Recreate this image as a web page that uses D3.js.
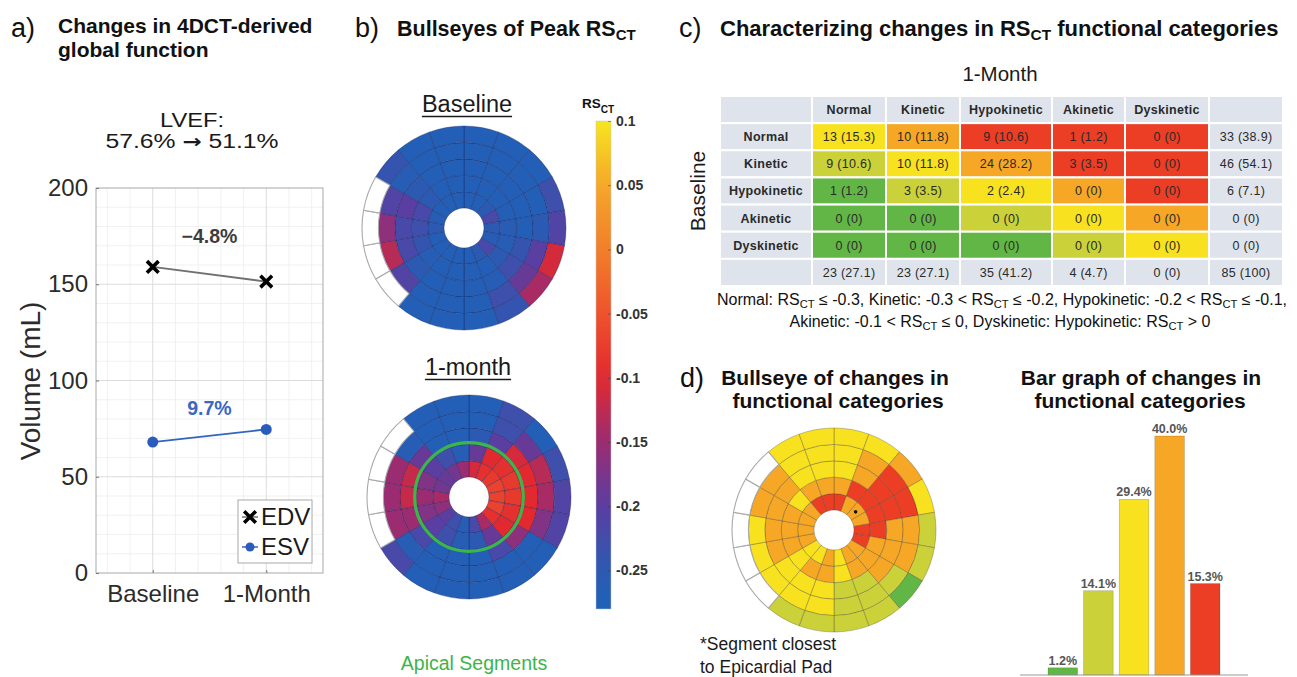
<!DOCTYPE html>
<html>
<head>
<meta charset="utf-8">
<script src="https://cdn.jsdelivr.net/npm/d3@7"></script>
<style>
  body { margin: 0; background: #fff; }
  svg { display: block; }
  text { font-family: "Liberation Sans", Arial, Helvetica, sans-serif; }
  .tbl { font-family: "Open Sans", "Liberation Sans", sans-serif; }
</style>
</head>
<body>
<svg id="fig" width="1297" height="677"></svg>
<script>
// ---------------- data ----------------
// a) global volumes
const timepoints = ["Baseline", "1-Month"];
const edv = [159.0, 151.4];
const esv = [68.0, 74.6];
const edvChange = -4.8;
const esvChange = 9.7;
const lvef = [57.6, 51.1];
const volumeTicks = [0, 50, 100, 150, 200];

// b) peak RS_CT per segment; rows = rings (inner -> outer), 18 sectors clockwise from 12 o'clock, null = no data
const rsTicks = [0.1, 0.05, 0, -0.05, -0.1, -0.15, -0.2, -0.25];
const baselineRS = [
  [-0.27,-0.27,-0.25,-0.22,-0.25,-0.26,-0.22,-0.25,-0.27,-0.27,-0.27,-0.27,-0.27,-0.25,-0.26,-0.27,-0.27,-0.27],
  [-0.27,-0.27,-0.27,-0.27,-0.26,-0.26,-0.25,-0.27,-0.27,-0.27,-0.27,-0.26,-0.24,-0.23,-0.22,-0.25,-0.27,-0.27],
  [-0.27,-0.27,-0.27,-0.27,-0.27,-0.24,-0.23,-0.26,-0.27,-0.27,-0.27,-0.25,-0.22,-0.22,-0.20,-0.25,-0.27,-0.27],
  [-0.27,-0.27,-0.27,-0.27,-0.25,-0.20,-0.19,-0.23,-0.27,-0.27,-0.27,-0.21,-0.13,-0.16,-0.21,-0.26,-0.27,-0.27],
  [-0.27,-0.27,-0.27,-0.23,-0.21,-0.11,-0.14,-0.24,-0.27,-0.27,-0.27, null, null, null, null,-0.24,-0.27,-0.27]
];
const monthRS = [
  [-0.11,-0.09,-0.08,-0.07,-0.07,-0.07,-0.09,-0.14,-0.22,-0.26,-0.23,-0.20,-0.16,-0.14,-0.18,-0.19,-0.18,-0.15],
  [-0.19,-0.10,-0.09,-0.08,-0.08,-0.09,-0.10,-0.19,-0.25,-0.26,-0.23,-0.20,-0.17,-0.15,-0.17,-0.20,-0.23,-0.26],
  [-0.25,-0.20,-0.11,-0.10,-0.10,-0.10,-0.16,-0.22,-0.27,-0.27,-0.27,-0.22,-0.15,-0.12,-0.12,-0.19,-0.27,-0.27],
  [-0.27,-0.23,-0.19,-0.13,-0.14,-0.17,-0.27,-0.27,-0.27,-0.27,-0.27,-0.26,-0.15,-0.15,-0.15,-0.26,-0.27,-0.27],
  [-0.27,-0.23,-0.27,-0.23,-0.21,-0.21,-0.27,-0.27,-0.27,-0.27,-0.27,-0.22, null, null, null, null,-0.27,-0.27]
];

// c) transition table (rows = baseline, columns = 1-month)
const categories = ["Normal", "Kinetic", "Hypokinetic", "Akinetic", "Dyskinetic"];
const counts = [
  [13, 10, 9, 1, 0],
  [9, 10, 24, 3, 0],
  [1, 3, 2, 0, 0],
  [0, 0, 0, 0, 0],
  [0, 0, 0, 0, 0]
];
const percents = [
  ["15.3", "11.8", "10.6", "1.2", "0"],
  ["10.6", "11.8", "28.2", "3.5", "0"],
  ["1.2", "3.5", "2.4", "0", "0"],
  ["0", "0", "0", "0", "0"],
  ["0", "0", "0", "0", "0"]
];
const rowTotals = ["33 (38.9)", "46 (54.1)", "6 (7.1)", "0 (0)", "0 (0)"];
const colTotals = ["23 (27.1)", "23 (27.1)", "35 (41.2)", "4 (4.7)", "0 (0)", "85 (100)"];

// d) change in category per segment (-2 = improved >=2 ... +2 = worsened >=2), null = no data
const changeCat = [
  [2, 1, 1, 1, 2, 2, 1, 1, 0, 1, 0, 0, 1, 1, 1, 1, 2, 2],
  [1, 2, 2, 2, 2, 1, 1, 1, 0, 1, 1, 0, 1, 1, 1, 0, 1, 1],
  [0, 1, 2, 2, 1, 1, 1, -1, -1, 0, 0, 0, 1, 1, 1, 1, 0, 0],
  [0, 1, 2, 2, 1, 1, -1, -1, -1, 0, 0, 0, 0, 0, 1, 1, 0, 0],
  [0, 0, 1, 0, -1, -1, -2, -1, -1, -1, -1, null, null, null, null, null, 0, 0]
];
const padSegment = { ring: 0, sector: 2 };
const changeLevels = [-2, -1, 0, 1, 2];
const changePct = [1.2, 14.1, 29.4, 40.0, 15.3];

// ---------------- styles ----------------
const changeColor = d3.scaleOrdinal()
  .domain(changeLevels)
  .range(["#62b646", "#cbd239", "#f8e21f", "#f6a725", "#ec3d25"]);
const rsColor = d3.scaleLinear()
  .domain([-0.28, -0.25, -0.2, -0.15, -0.1, -0.05, 0, 0.05, 0.1])
  .range(["#1e62b8", "#2c5ab3", "#5a3ea2", "#9b2c72", "#e2292f", "#ee532d", "#f27f2a", "#f5a72a", "#f6e61f"])
  .clamp(true);

const svg = d3.select("#fig");

// text with "_{sub}" subscripts
function richText(sel, str, subScale = 0.7, subDy = 4) {
  const parts = str.split(/_\{([^}]*)\}/);
  const base = parseFloat(sel.attr("font-size"));
  let shifted = false;
  parts.forEach((p, i) => {
    if (p === "") return;
    const t = sel.append("tspan").text(p);
    if (i % 2 === 1) {
      t.attr("font-size", base * subScale).attr("dy", subDy);
      shifted = true;
    } else if (shifted) {
      t.attr("dy", -subDy);
      shifted = false;
    }
  });
  return sel;
}
function label(x, y, str, size, opts = {}) {
  const t = svg.append("text")
    .attr("x", x).attr("y", y)
    .attr("font-size", size)
    .attr("font-weight", opts.bold ? "bold" : "normal")
    .attr("fill", opts.fill || "#111")
    .attr("text-anchor", opts.anchor || "start");
  richText(t, str, opts.subScale, opts.subDy);
  return t;
}

// ---------------- panel letters and titles ----------------
label(11, 37, "a)", 27);
label(58, 33, "Changes in 4DCT-derived", 21, { bold: true });
label(58, 57, "global function", 21, { bold: true });
label(355, 37, "b)", 27);
label(397, 36, "Bullseyes of Peak RS_{CT}", 21.5, { bold: true, subDy: 4 });
label(679, 37, "c)", 27);
label(720, 36, "Characterizing changes in RS_{CT} functional categories", 22, { bold: true, subDy: 4 });
label(680, 387, "d)", 27);
label(835, 385, "Bullseye of changes in", 21, { bold: true, anchor: "middle" });
label(838, 408, "functional categories", 21, { bold: true, anchor: "middle" });
label(1141, 385, "Bar graph of changes in", 21, { bold: true, anchor: "middle" });
label(1140, 408, "functional categories", 21, { bold: true, anchor: "middle" });

// ---------------- a) volumes ----------------
const ga = svg.append("g");
const xA = d3.scaleLinear().domain([0.5, 2.5]).range([96, 323]);
const yA = d3.scaleLinear().domain([0, 200]).range([573, 188]);
const fmt1 = d3.format(".1f");

svg.append("text").attr("x", 192).attr("y", 127).attr("font-size", 20.5)
  .attr("text-anchor", "middle").attr("fill", "#1a1a1a")
  .attr("textLength", 64).attr("lengthAdjust", "spacingAndGlyphs").text("LVEF:");
const lvefLine = svg.append("text").attr("x", 192).attr("y", 148).attr("font-size", 20.5)
  .attr("text-anchor", "middle").attr("fill", "#1a1a1a")
  .attr("textLength", 173).attr("lengthAdjust", "spacingAndGlyphs");
lvefLine.append("tspan").text(`${fmt1(lvef[0])}% `);
lvefLine.append("tspan").attr("font-family", "'DejaVu Sans', sans-serif").attr("font-weight", "bold")
  .attr("font-size", 19).text("\u2192");
lvefLine.append("tspan").text(` ${fmt1(lvef[1])}%`);

ga.append("rect").attr("x", xA(0.5)).attr("y", yA(200))
  .attr("width", xA(2.5) - xA(0.5)).attr("height", yA(0) - yA(200)).attr("fill", "#fff");
const minorX = d3.range(6, 25, 2).map(d => d / 10).filter(d => d !== 1 && d !== 2);
const minorY = d3.range(10, 200, 10).filter(d => d % 50 !== 0);
ga.append("g").selectAll("line").data(minorX).join("line")
  .attr("x1", d => xA(d)).attr("x2", d => xA(d)).attr("y1", yA(0)).attr("y2", yA(200))
  .attr("stroke", "#eeeeee").attr("stroke-width", 0.8);
ga.append("g").selectAll("line").data(minorY).join("line")
  .attr("y1", d => yA(d)).attr("y2", d => yA(d)).attr("x1", xA(0.5)).attr("x2", xA(2.5))
  .attr("stroke", "#eeeeee").attr("stroke-width", 0.8);
ga.append("g").selectAll("line").data([1, 2]).join("line")
  .attr("x1", d => xA(d)).attr("x2", d => xA(d)).attr("y1", yA(0)).attr("y2", yA(200))
  .attr("stroke", "#dcdcdc").attr("stroke-width", 1);
ga.append("g").selectAll("line").data(volumeTicks.filter(d => d > 0 && d < 200)).join("line")
  .attr("y1", d => yA(d)).attr("y2", d => yA(d)).attr("x1", xA(0.5)).attr("x2", xA(2.5))
  .attr("stroke", "#dcdcdc").attr("stroke-width", 1);
ga.append("rect").attr("x", xA(0.5)).attr("y", yA(200))
  .attr("width", xA(2.5) - xA(0.5)).attr("height", yA(0) - yA(200))
  .attr("fill", "none").attr("stroke", "#a8a8a8").attr("stroke-width", 1);

// axes (labels from d3 axes, inward ticks)
const yAxisA = ga.append("g").attr("transform", `translate(${xA(0.5)},0)`)
  .call(d3.axisLeft(yA).tickValues(volumeTicks).tickSize(-3).tickPadding(8));
yAxisA.select(".domain").remove();
yAxisA.selectAll("line").attr("stroke", "#777");
yAxisA.selectAll("text").attr("font-size", 24).attr("fill", "#2b2b2b")
  .attr("font-family", "'Liberation Sans', Arial, sans-serif");
const xAxisA = ga.append("g").attr("transform", `translate(0,${yA(0)})`)
  .call(d3.axisBottom(xA).tickValues([1, 2]).tickFormat((d, i) => timepoints[i]).tickSize(-3).tickPadding(12));
xAxisA.select(".domain").remove();
xAxisA.selectAll("line").attr("stroke", "#777");
xAxisA.selectAll("text").attr("font-size", 24).attr("fill", "#2b2b2b")
  .attr("font-family", "'Liberation Sans', Arial, sans-serif");

svg.append("text").attr("transform", "translate(40,381) rotate(-90)")
  .attr("text-anchor", "middle").attr("font-size", 28).attr("fill", "#2b2b2b")
  .text("Volume (mL)");

const lineA = d3.line().x((d, i) => xA(i + 1)).y(d => yA(d));
ga.append("path").datum(edv).attr("d", lineA).attr("fill", "none")
  .attr("stroke", "#707070").attr("stroke-width", 1.8);
ga.append("path").datum(esv).attr("d", lineA).attr("fill", "none")
  .attr("stroke", "#3264c2").attr("stroke-width", 1.8);
const xMark = d3.symbol().type(d3.symbolX).size(90);
ga.append("g").selectAll("path").data(edv).join("path")
  .attr("transform", (d, i) => `translate(${xA(i + 1)},${yA(d)})`)
  .attr("d", xMark).attr("fill", "none").attr("stroke", "#000").attr("stroke-width", 3.6);
ga.append("g").selectAll("circle").data(esv).join("circle")
  .attr("cx", (d, i) => xA(i + 1)).attr("cy", d => yA(d)).attr("r", 5.5)
  .attr("fill", "#2a5cbd");

label(xA(1.5), 243, `${fmt1(edvChange)}%`, 19.5, { bold: true, anchor: "middle", fill: "#3d3d3d" });
label(xA(1.5), 415, `${fmt1(esvChange)}%`, 19.5, { bold: true, anchor: "middle", fill: "#3a67c4" });

// legend
const lg = ga.append("g");
lg.append("rect").attr("x", 238).attr("y", 500).attr("width", 74).attr("height", 63)
  .attr("fill", "#fff").attr("stroke", "#a8a8a8");
lg.append("line").attr("x1", 242).attr("x2", 258).attr("y1", 517).attr("y2", 517).attr("stroke", "#707070").attr("stroke-width", 1.5);
lg.append("path").attr("transform", "translate(250,517)").attr("d", xMark)
  .attr("fill", "none").attr("stroke", "#000").attr("stroke-width", 3.6);
lg.append("line").attr("x1", 242).attr("x2", 258).attr("y1", 547).attr("y2", 547).attr("stroke", "#3264c2").attr("stroke-width", 1.5);
lg.append("circle").attr("cx", 250).attr("cy", 547).attr("r", 4.5).attr("fill", "#2a5cbd");
lg.append("text").attr("x", 261).attr("y", 525).attr("font-size", 24).attr("fill", "#1a1a1a").text("EDV");
lg.append("text").attr("x", 261).attr("y", 555).attr("font-size", 24).attr("fill", "#1a1a1a").text("ESV");

// ---------------- bullseye helper ----------------
const NR = 5, NS = 18;
const ringR = d3.scaleLinear().domain([0, NR]).range([20, 102]);
const secA = d3.scaleLinear().domain([0, NS]).range([0, 2 * Math.PI]);
const arc = d3.arc();
function bullseye(cx, cy, values, fill, edge, edgeWidth) {
  const g = svg.append("g").attr("transform", `translate(${cx},${cy})`);
  const cells = values.flatMap((ring, r) => ring.map((v, s) => ({ r, s, v })));
  cells.sort((a, b) => (a.v == null) - (b.v == null));
  g.selectAll("path").data(cells).join("path")
    .attr("d", d => arc({
      innerRadius: ringR(d.r), outerRadius: ringR(d.r + 1),
      startAngle: secA(d.s), endAngle: secA(d.s + 1)
    }))
    .attr("fill", d => d.v == null ? "#fff" : fill(d.v))
    .attr("stroke", d => d.v == null ? "#a9a9a9" : edge)
    .attr("stroke-width", d => d.v == null ? 1.1 : edgeWidth);
  return g;
}

// ---------------- b) RS_CT bullseyes ----------------
function underlined(x, y, str) {
  const t = svg.append("text").attr("x", x).attr("y", y).attr("font-size", 23.5)
    .attr("text-anchor", "middle").attr("fill", "#1a1a1a").text(str);
  const w = t.node().getComputedTextLength();
  svg.append("line").attr("x1", x - w / 2).attr("x2", x + w / 2)
    .attr("y1", y + 4.5).attr("y2", y + 4.5).attr("stroke", "#1a1a1a").attr("stroke-width", 1.6);
}
underlined(467, 112, "Baseline");
bullseye(464, 228, baselineRS, rsColor, "rgba(20,30,90,0.45)", 0.8);
underlined(468, 375, "1-month");
const gMonth = bullseye(469, 497, monthRS, rsColor, "rgba(20,30,90,0.45)", 0.8);
gMonth.append("circle").attr("r", ringR(2) + 1.5).attr("fill", "none")
  .attr("stroke", "#3cb54a").attr("stroke-width", 3.2);
svg.append("text").attr("x", 474).attr("y", 670).attr("text-anchor", "middle")
  .attr("font-size", 19.5).attr("fill", "#3cb54a").text("Apical Segments");

// colorbar
const cbY = d3.scaleLinear().domain([-0.28, 0.1]).range([609, 121]);
const defs = svg.append("defs");
const grad = defs.append("linearGradient").attr("id", "rsGrad")
  .attr("x1", 0).attr("y1", 1).attr("x2", 0).attr("y2", 0);
d3.range(0, 1.0001, 0.05).forEach(t => {
  grad.append("stop").attr("offset", t).attr("stop-color", rsColor(-0.28 + t * 0.38));
});
svg.append("rect").attr("x", 596).attr("y", cbY(0.1)).attr("width", 15)
  .attr("height", cbY(-0.28) - cbY(0.1)).attr("fill", "url(#rsGrad)")
  .attr("stroke", "#c8c8c8").attr("stroke-width", 0.5);
const cbAxis = svg.append("g").attr("transform", "translate(611,0)")
  .call(d3.axisRight(cbY).tickValues(rsTicks).tickSize(-3).tickPadding(5)
    .tickFormat(d => d === 0 ? "0" : String(+d.toFixed(2))));
cbAxis.select(".domain").remove();
cbAxis.selectAll("line").attr("stroke", "rgba(60,60,60,0.5)");
cbAxis.selectAll("text").attr("font-size", 14).attr("font-weight", "bold").attr("fill", "#333")
  .attr("font-family", "'Liberation Sans', Arial, sans-serif");
label(582, 108, "RS_{CT}", 13.5, { bold: true, subDy: 5, subScale: 0.75 });

// ---------------- c) transition table ----------------
label(1000, 81, "1-Month", 20.5, { anchor: "middle", fill: "#1a1a1a" });
svg.append("text").attr("transform", "translate(705,191) rotate(-90)")
  .attr("text-anchor", "middle").attr("font-size", 21).attr("fill", "#1a1a1a").text("Baseline");

const colKeys = ["label", ...categories, "total"];
const colLeft = d3.scaleOrdinal().domain(colKeys).range([720, 812, 886, 960, 1052, 1125, 1209]);
const colWidth = d3.scaleOrdinal().domain(colKeys).range([92, 74, 74, 92, 73, 84, 74]);
const rowKeys = ["header", ...categories, "total"];
const rowY = d3.scaleBand().domain(rowKeys).range([96, 286]);
const labelBg = "#dfe4ec";

const tableCells = [];
colKeys.forEach((c, ci) => {
  tableCells.push({ row: "header", col: c, text: (ci > 0 && ci <= 5) ? c : "", bold: true, fill: labelBg });
});
categories.forEach((rc, ri) => {
  tableCells.push({ row: rc, col: "label", text: rc, bold: true, fill: labelBg });
  categories.forEach((cc, ci) => {
    tableCells.push({
      row: rc, col: cc, text: `${counts[ri][ci]} (${percents[ri][ci]})`,
      fill: changeColor(Math.max(-2, Math.min(2, ci - ri)))
    });
  });
  tableCells.push({ row: rc, col: "total", text: rowTotals[ri], fill: labelBg });
});
tableCells.push({ row: "total", col: "label", text: "", fill: labelBg });
[...categories, "total"].forEach((cc, ci) => {
  tableCells.push({ row: "total", col: cc, text: colTotals[ci], fill: labelBg });
});

const gt = svg.append("g").attr("class", "tbl");
const cellG = gt.selectAll("g").data(tableCells).join("g")
  .attr("transform", d => `translate(${colLeft(d.col)},${rowY(d.row)})`);
cellG.append("rect")
  .attr("width", d => colWidth(d.col)).attr("height", rowY.bandwidth())
  .attr("fill", d => d.fill).attr("stroke", "#fff").attr("stroke-width", 2);
cellG.append("text")
  .attr("x", d => colWidth(d.col) / 2).attr("y", rowY.bandwidth() / 2 + 4.5)
  .attr("text-anchor", "middle").attr("font-size", 12.5)
  .attr("font-family", "'Open Sans', sans-serif")
  .attr("font-weight", d => d.bold ? "bold" : "normal")
  .attr("fill", "#2a2a2a").attr("letter-spacing", 0.3)
  .text(d => d.text);

label(1002, 305, "Normal: RS_{CT} \u2264 -0.3, Kinetic: -0.3 < RS_{CT} \u2264 -0.2, Hypokinetic: -0.2 < RS_{CT} \u2264 -0.1,", 16,
  { anchor: "middle", fill: "#111", subDy: 3 });
label(1000, 327, "Akinetic: -0.1 < RS_{CT} \u2264 0, Dyskinetic: Hypokinetic: RS_{CT} > 0", 16,
  { anchor: "middle", fill: "#111", subDy: 3 });

// ---------------- d) category-change bullseye ----------------
const gD = bullseye(834, 530, changeCat, changeColor, "rgba(70,60,40,0.45)", 0.7);
const padAngle = (secA(padSegment.sector) + secA(padSegment.sector + 1)) / 2;
const padR = (ringR(padSegment.ring) + ringR(padSegment.ring + 1)) / 2;
gD.append("circle").attr("cx", padR * Math.sin(padAngle)).attr("cy", -padR * Math.cos(padAngle))
  .attr("r", 1.8).attr("fill", "#111");
label(700, 650, "*Segment closest", 17.5, { fill: "#1a1a1a" });
label(700, 673, "to Epicardial Pad", 17.5, { fill: "#1a1a1a" });

// ---------------- d) bar graph ----------------
const xB = d3.scaleBand().domain(changeLevels).range([1048, 1220]).paddingInner(0.17);
const yB = d3.scaleLinear().domain([0, 40]).range([675, 436]);
const gb = svg.append("g");
gb.selectAll("rect").data(changeLevels).join("rect")
  .attr("x", d => xB(d)).attr("width", xB.bandwidth())
  .attr("y", (d, i) => yB(changePct[i])).attr("height", (d, i) => yB(0) - yB(changePct[i]))
  .attr("fill", d => changeColor(d)).attr("stroke", "rgba(0,0,0,0.25)").attr("stroke-width", 0.6);
gb.selectAll("text").data(changeLevels).join("text")
  .attr("x", d => xB(d) + xB.bandwidth() / 2).attr("y", (d, i) => yB(changePct[i]) - 3)
  .attr("text-anchor", "middle").attr("font-size", 12.5).attr("font-weight", "bold")
  .attr("fill", "#555").text((d, i) => `${fmt1(changePct[i])}%`);
gb.append("line").attr("x1", 1020).attr("x2", 1248).attr("y1", yB(0)).attr("y2", yB(0))
  .attr("stroke", "#999").attr("stroke-width", 1.2);
</script>
</body>
</html>
